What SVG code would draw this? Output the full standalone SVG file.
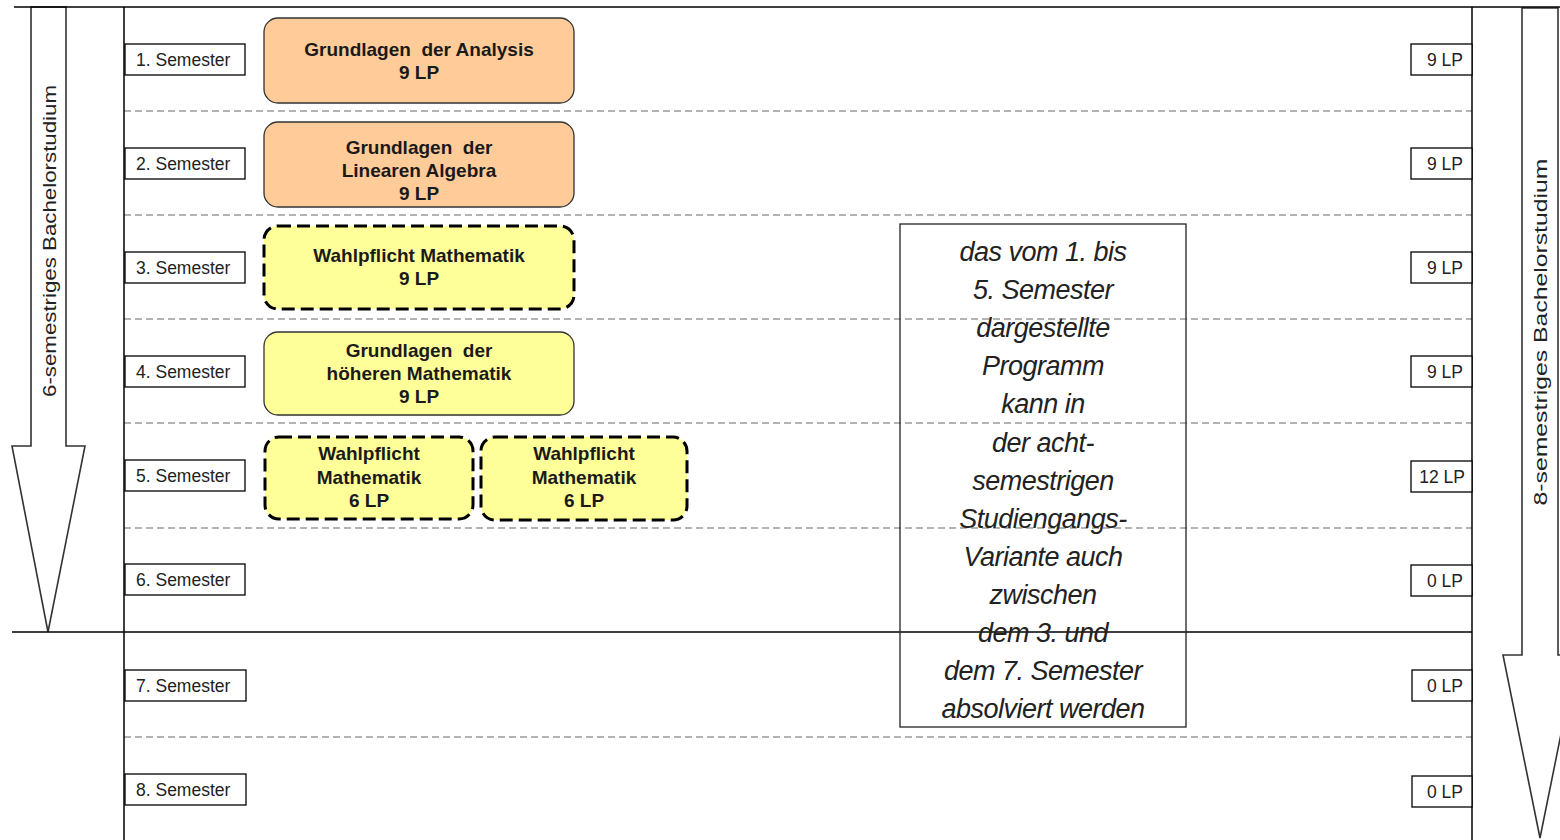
<svg xmlns="http://www.w3.org/2000/svg" width="1560" height="840" viewBox="0 0 1560 840">
<style>
.frame{stroke:#000;stroke-width:1.5;fill:none}
.dash{stroke:#9a9a9a;stroke-width:1.3;stroke-dasharray:7 4;fill:none}
.arrow{fill:#fff;stroke:#333;stroke-width:1.6}
.lbl{fill:#fff;stroke:#000;stroke-width:1.3}
.lt{font-family:"Liberation Sans",Arial,sans-serif;font-size:17.5px;fill:#222}
.orange{fill:#FFCC99;stroke:#333;stroke-width:1.3}
.yellow{fill:#FFFF99;stroke:#333;stroke-width:1.3}
.yellowd{fill:#FFFF99;stroke:#000;stroke-width:3;stroke-dasharray:13 6}
.mt{font-family:"Liberation Sans",Arial,sans-serif;font-size:19px;font-weight:bold;fill:#1a1a1a;text-anchor:middle;white-space:pre}
.it{font-family:"Liberation Sans",Arial,sans-serif;font-size:27px;font-style:italic;fill:#222;text-anchor:middle;letter-spacing:-0.5px}
.vt{font-family:"Liberation Sans",Arial,sans-serif;font-size:19px;fill:#222;text-anchor:middle}
</style>

<g id="arrows">
  <path class="arrow" d="M31,7 L66,7 L66,446 L85,446 L48,632 L12,446 L31,446 Z"/>
  <text class="vt" transform="translate(56,241) rotate(-90)" textLength="312" lengthAdjust="spacingAndGlyphs">6-semestriges  Bachelorstudium</text>
  <path class="arrow" d="M1522,8 L1558,8 L1558,655 L1577,655 L1540,838 L1503,655 L1522,655 Z"/>
  <text class="vt" transform="translate(1547,332) rotate(-90)" font-size="17" textLength="347" lengthAdjust="spacingAndGlyphs">8-semestriges  Bachelorstudium</text>
</g>

<g id="grid">
  <line class="dash" x1="124" y1="111" x2="1472" y2="111"/>
  <line class="dash" x1="124" y1="215" x2="1472" y2="215"/>
  <line class="dash" x1="124" y1="319" x2="1472" y2="319"/>
  <line class="dash" x1="124" y1="423" x2="1472" y2="423"/>
  <line class="dash" x1="124" y1="528" x2="1472" y2="528"/>
  <line class="dash" x1="124" y1="737" x2="1472" y2="737"/>
  <line class="frame" x1="14" y1="7" x2="1560" y2="7"/>
  <line class="frame" x1="124" y1="7" x2="124" y2="840"/>
  <line class="frame" x1="1472" y1="7" x2="1472" y2="840"/>
  <line class="frame" x1="12" y1="632" x2="1472" y2="632"/>
</g>

<g id="semesters">
  <rect class="lbl" x="125" y="44" width="120" height="31"/><text class="lt" x="136" y="66">1. Semester</text>
  <rect class="lbl" x="125" y="148" width="120" height="31"/><text class="lt" x="136" y="170">2. Semester</text>
  <rect class="lbl" x="125" y="252" width="120" height="31"/><text class="lt" x="136" y="274">3. Semester</text>
  <rect class="lbl" x="125" y="356" width="120" height="31"/><text class="lt" x="136" y="378">4. Semester</text>
  <rect class="lbl" x="125" y="460" width="120" height="31"/><text class="lt" x="136" y="482">5. Semester</text>
  <rect class="lbl" x="125" y="564" width="120" height="31"/><text class="lt" x="136" y="586">6. Semester</text>
  <rect class="lbl" x="125" y="670" width="121" height="31"/><text class="lt" x="136" y="692">7. Semester</text>
  <rect class="lbl" x="125" y="774" width="121" height="31"/><text class="lt" x="136" y="796">8. Semester</text>
</g>

<g id="credits">
  <rect class="lbl" x="1411" y="44" width="61" height="31"/><text class="lt" x="1463" y="66" text-anchor="end">9 LP</text>
  <rect class="lbl" x="1411" y="148" width="61" height="31"/><text class="lt" x="1463" y="170" text-anchor="end">9 LP</text>
  <rect class="lbl" x="1411" y="252" width="61" height="31"/><text class="lt" x="1463" y="274" text-anchor="end">9 LP</text>
  <rect class="lbl" x="1411" y="356" width="61" height="31"/><text class="lt" x="1463" y="378" text-anchor="end">9 LP</text>
  <rect class="lbl" x="1411" y="461" width="61" height="31"/><text class="lt" x="1465" y="483" text-anchor="end">12 LP</text>
  <rect class="lbl" x="1411" y="565" width="61" height="31"/><text class="lt" x="1463" y="587" text-anchor="end">0 LP</text>
  <rect class="lbl" x="1412" y="670" width="60" height="31"/><text class="lt" x="1463" y="692" text-anchor="end">0 LP</text>
  <rect class="lbl" x="1412" y="776" width="60" height="31"/><text class="lt" x="1463" y="798" text-anchor="end">0 LP</text>
</g>

<g id="m1">
  <rect class="orange" x="264" y="18" width="310" height="85" rx="14"/>
  <text class="mt" x="419" y="56">Grundlagen  der Analysis</text>
  <text class="mt" x="419" y="79">9 LP</text>
</g>
<g id="m2">
  <rect class="orange" x="264" y="122" width="310" height="85" rx="14"/>
  <text class="mt" x="419" y="154">Grundlagen  der</text>
  <text class="mt" x="419" y="177">Linearen Algebra</text>
  <text class="mt" x="419" y="200">9 LP</text>
</g>
<g id="m3">
  <rect class="yellowd" x="264" y="226" width="310" height="83" rx="14"/>
  <text class="mt" x="419" y="262">Wahlpflicht Mathematik</text>
  <text class="mt" x="419" y="285">9 LP</text>
</g>
<g id="m4">
  <rect class="yellow" x="264" y="332" width="310" height="83" rx="14"/>
  <text class="mt" x="419" y="357">Grundlagen  der</text>
  <text class="mt" x="419" y="380">höheren Mathematik</text>
  <text class="mt" x="419" y="403">9 LP</text>
</g>
<g id="m5a">
  <rect class="yellowd" x="265" y="437" width="208" height="82" rx="14"/>
  <text class="mt" x="369" y="460">Wahlpflicht</text>
  <text class="mt" x="369" y="484">Mathematik</text>
  <text class="mt" x="369" y="507">6 LP</text>
</g>
<g id="m5b">
  <rect class="yellowd" x="481" y="437" width="206" height="83" rx="14"/>
  <text class="mt" x="584" y="460">Wahlpflicht</text>
  <text class="mt" x="584" y="484">Mathematik</text>
  <text class="mt" x="584" y="507">6 LP</text>
</g>

<g id="note">
  <rect x="900" y="224" width="286" height="503" fill="none" stroke="#222" stroke-width="1.3"/>
  <text class="it" x="1043" y="261">das vom 1. bis</text>
  <text class="it" x="1043" y="299">5. Semester</text>
  <text class="it" x="1043" y="337">dargestellte</text>
  <text class="it" x="1043" y="375">Programm</text>
  <text class="it" x="1043" y="413">kann in</text>
  <text class="it" x="1043" y="452">der acht-</text>
  <text class="it" x="1043" y="490">semestrigen</text>
  <text class="it" x="1043" y="528">Studiengangs-</text>
  <text class="it" x="1043" y="566">Variante auch</text>
  <text class="it" x="1043" y="604">zwischen</text>
  <text class="it" x="1043" y="642">dem 3. und</text>
  <text class="it" x="1043" y="680">dem 7. Semester</text>
  <text class="it" x="1043" y="718">absolviert werden</text>
</g>
</svg>
